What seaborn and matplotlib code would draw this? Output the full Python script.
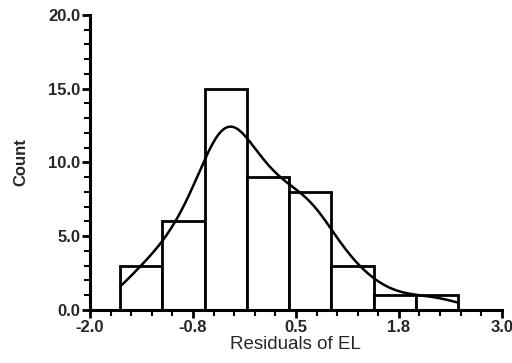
import numpy as np
import pandas as pd
import matplotlib
matplotlib.use("Agg")
import matplotlib.pyplot as plt
import seaborn as sns
from matplotlib.ticker import MultipleLocator, FormatStrFormatter

# Data
bin_edges = [-1.634, -1.121, -0.608, -0.095, 0.418, 0.931, 1.444, 1.957, 2.470]
counts = [3, 6, 15, 9, 8, 3, 1, 1]
x_ticks = [-2.0, -0.75, 0.5, 1.75, 3.0]
y_ticks = [0.0, 5.0, 10.0, 15.0, 20.0]

centers = [(a + b) / 2 for a, b in zip(bin_edges[:-1], bin_edges[1:])]
df = pd.DataFrame({"resid": centers, "n": counts})

sns.set_theme(style="ticks")
plt.rcParams["font.family"] = ["Liberation Sans", "DejaVu Sans"]

fig = plt.figure(figsize=(5.12, 3.63), dpi=100)
ax = fig.add_axes([0.176, 0.146, 0.804, 0.813])

sns.histplot(data=df, x="resid", weights="n", bins=bin_edges, kde=True,
             kde_kws={"bw_adjust": 0.5, "cut": 3, "clip": (bin_edges[0], bin_edges[-1])},
             fill=False, color="black", element="bars", linewidth=2.0,
             line_kws={"linewidth": 1.8}, ax=ax)
for p in ax.patches:
    p.set_edgecolor("black")
    p.set_facecolor("white")
    p.set_fill(True)
    p.set_linewidth(2.0)

ax.set_xlim(-2.0, 3.0)
ax.set_ylim(0, 20)
ax.set_xticks(x_ticks)
ax.set_yticks(y_ticks)
ax.xaxis.set_major_formatter(FormatStrFormatter("%.1f"))
ax.yaxis.set_major_formatter(FormatStrFormatter("%.1f"))
ax.xaxis.set_minor_locator(MultipleLocator(0.25))
ax.yaxis.set_minor_locator(MultipleLocator(1.0))
ax.tick_params(which="major", length=6, width=2, color="black", labelsize=12, pad=1)
ax.tick_params(which="minor", length=4, width=1.5, color="black")
for lab in ax.get_xticklabels() + ax.get_yticklabels():
    lab.set_fontweight("bold")
for s in ["left", "bottom"]:
    ax.spines[s].set_linewidth(2.2)
    ax.spines[s].set_color("black")
sns.despine(ax=ax)
ax.set_xlabel("Residuals of EL", fontsize=13.5, labelpad=1)
ax.set_ylabel("Count", fontsize=12, fontweight="bold", labelpad=14)

fig.savefig("out.png", dpi=100)
